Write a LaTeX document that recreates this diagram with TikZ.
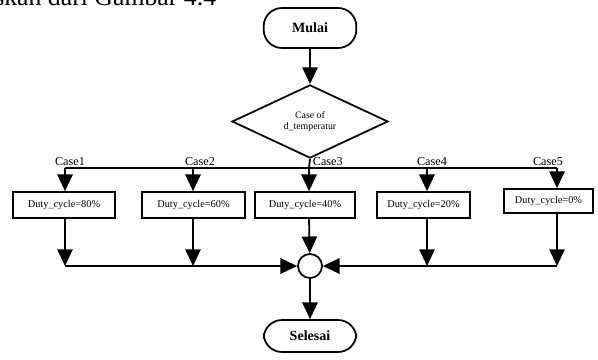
\documentclass[tikz,border=0pt]{standalone}
\usepackage{fontspec}
\setmainfont{Liberation Serif}
\usetikzlibrary{arrows.meta,shapes.geometric}
\begin{document}
\begin{tikzpicture}[x=0.03cm,y=-0.03cm,
  line width=1.5pt,
  arr/.style={-{Triangle[length=0.5cm,width=0.46cm]}},
  term/.style={draw,rectangle,rounded corners=0.55cm,minimum width=2.78cm,font=\fontsize{12}{14}\selectfont\bfseries},
  decide/.style={draw,diamond,minimum width=4.68cm,minimum height=2.0cm,inner sep=0pt,align=center,font=\fontsize{8.4}{10}\selectfont},
  process/.style={draw,rectangle,minimum height=0.78cm,inner sep=1pt,font=\fontsize{8.8}{10}\selectfont},
  caselabel/.style={inner sep=0pt,anchor=base,font=\fontsize{10.4}{12}\selectfont},
  joint/.style={draw,circle,minimum size=0.72cm,inner sep=0pt}]

\useasboundingbox (0,0) rectangle (598,359);
\clip (0,0) rectangle (598,359);

% cut-off line of the page text
\node[anchor=base east,inner sep=0pt,font=\fontsize{22}{26}\selectfont] (pagetext) at (217,5) {dijelaskan dari Gambar 4.4};

\node[term,minimum height=1.2cm] (mulai) at (310,28) {Mulai};
\node[decide] (case) at (310,121.5) {Case of\\d\_temperatur};

\coordinate (c1) at (65,168);
\coordinate (c2) at (193,168);
\coordinate (c3) at (309,168);
\coordinate (c4) at (427,168);
\coordinate (c5) at (557,168);

\node[process,minimum width=3.06cm] (b1) at (64,205) {Duty\_cycle=80\%};
\node[process,minimum width=3.09cm] (b2) at (193.5,205) {Duty\_cycle=60\%};
\node[process,minimum width=3.0cm] (b3) at (305,205) {Duty\_cycle=40\%};
\node[process,minimum width=2.79cm] (b4) at (423.5,205) {Duty\_cycle=20\%};
\node[process,minimum width=2.67cm,minimum height=0.72cm] (b5) at (548.5,201) {Duty\_cycle=0\%};

\node[joint] (m) at (310,266) {};
\node[term,minimum height=0.96cm] (selesai) at (310,336) {Selesai};

\node[caselabel] (l1) at (70,165) {Case1};
\node[caselabel] (l2) at (200,165) {Case2};
\node[caselabel,anchor=base west] (l3) at (312,165) {Case3};
\node[caselabel] (l4) at (432,165) {Case4};
\node[caselabel] (l5) at (548,165) {Case5};

\draw[arr] (mulai) -- (case);
\draw (case.south) -- (c3);
\draw (c1) -- (c5);
\foreach \i in {1,2,4,5}{
  \draw[arr] (c\i) -- (c\i |- b\i.north);
  \draw[arr] (c\i |- b\i.south) -- (c\i |- m);
}
\draw[arr] (c3) -- (c3 |- b3.north);
\draw[arr] (c3 |- b3.south) -- (m);
\draw[arr] (c1 |- m) -- (m);
\draw[arr] (c5 |- m) -- (m);
\draw[arr] (m) -- (selesai);
\end{tikzpicture}
\end{document}
